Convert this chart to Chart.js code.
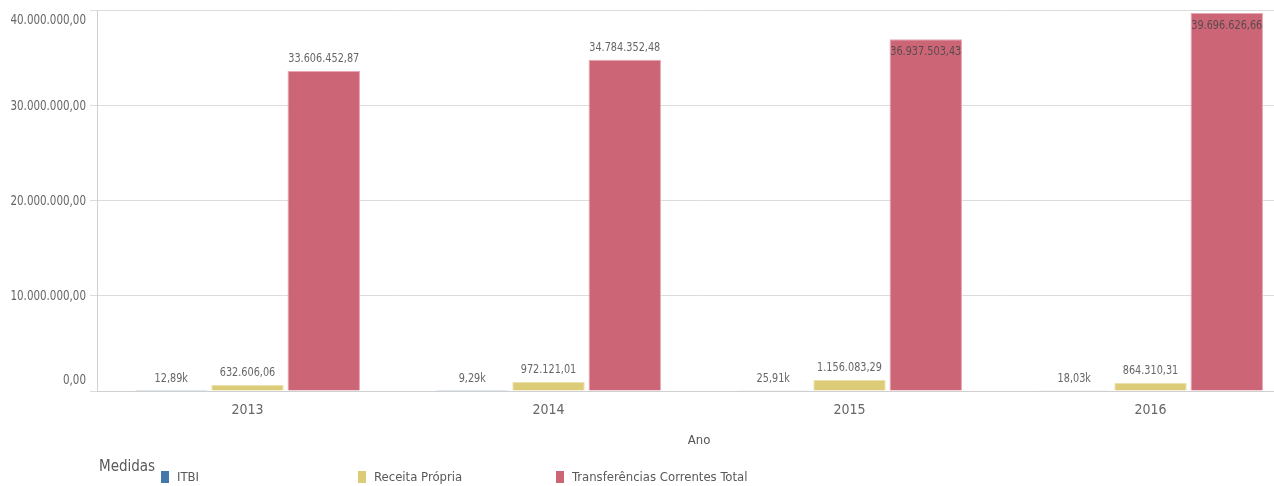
<!DOCTYPE html>
<html>
<head>
<meta charset="utf-8">
<script src="https://cdn.jsdelivr.net/npm/chart.js@4.4.1/dist/chart.umd.min.js"></script>
<style>
  body { margin: 0; background: #fff; overflow: hidden; width: 1274px; height: 486px; position: relative; }
  #wrap { position: absolute; left: 0; top: 0; width: 1302px; height: 458px; }
  .leg { position: absolute; font-family: 'Liberation Sans Narrow', 'DejaVu Sans Condensed', sans-serif; color: #595959; }
  .leg .sq { position: absolute; width: 8px; height: 12px; }
  .leg span.t { position: absolute; white-space: nowrap; font-size: 13px; }
</style>
</head>
<body>
<div id="wrap"><canvas id="grafico"></canvas></div>
<div class="leg" style="left:99px;top:457px;font-size:15px;">Medidas</div>
<div class="leg" id="legenda"></div>
<script>
const FONTE = "'Liberation Sans Narrow', 'DejaVu Sans Condensed', sans-serif";

const anos = ['2013', '2014', '2015', '2016'];
const medidas = ['ITBI', 'Receita Própria', 'Transferências Correntes Total'];
const itbi = [12890, 9290, 25910, 18030];
const receitaPropria = [632606.06, 972121.01, 1156083.29, 864310.31];
const transferencias = [33606452.87, 34784352.48, 36937503.43, 39696626.66];
const cores = ['#4477aa', '#ddcc77', '#cc6677'];
const bordas = ['#c9cfe6', '#ece2b0', '#e8a8b3'];
const legendaX = [161, 358, 556];

function formatBR(v) {
    const [inteiro, dec] = v.toFixed(2).split('.');
    return inteiro.replace(/\B(?=(\d{3})+(?!\d))/g, '.') + ',' + dec;
}

function formatRotulo(v) {
    if (v < 100000) return (v / 1000).toFixed(2).replace('.', ',') + 'k';
    return formatBR(v);
}

// texto "condensado": a fonte original é estreita
function textoEstreito(ctx, txt, x, y, escala) {
    ctx.save();
    ctx.translate(x, y);
    ctx.scale(escala, 1);
    ctx.fillText(txt, 0, 0);
    ctx.restore();
}

// rótulos de valor em cima (ou dentro) das barras
const rotulosValor = {
    id: 'rotulosValor',
    afterDatasetsDraw(chart) {
        const ctx = chart.ctx;
        const topo = chart.chartArea.top;
        ctx.save();
        ctx.font = '13px ' + FONTE;
        ctx.textAlign = 'center';
        chart.data.datasets.forEach((ds, i) => {
            chart.getDatasetMeta(i).data.forEach((bar, j) => {
                const txt = formatRotulo(ds.data[j]);
                const dentro = bar.y - topo < 36;
                ctx.fillStyle = dentro ? '#5a4a4e' : '#666';
                ctx.textBaseline = dentro ? 'top' : 'bottom';
                textoEstreito(ctx, txt, bar.x, dentro ? bar.y + 6 : bar.y - 6, 0.83);
            });
        });
        ctx.restore();
    }
};

// rótulos do eixo y no estilo do original (primeiro e último deslocados)
const rotulosEixoY = {
    id: 'rotulosEixoY',
    afterDraw(chart) {
        const ctx = chart.ctx;
        const y = chart.scales.y;
        ctx.save();
        ctx.font = '14px ' + FONTE;
        ctx.fillStyle = '#666';
        ctx.textAlign = 'right';
        y.ticks.forEach(t => {
            const py = y.getPixelForValue(t.value);
            let dy = 1;
            ctx.textBaseline = 'middle';
            if (t.value === y.max) { ctx.textBaseline = 'top'; dy = 3; }
            else if (t.value === y.min) { ctx.textBaseline = 'bottom'; dy = -4; }
            textoEstreito(ctx, formatBR(t.value), y.right - 11, py + dy, 0.82);
        });
        ctx.restore();
    }
};

const series = [itbi, receitaPropria, transferencias];

new Chart(document.getElementById('grafico'), {
    type: 'bar',
    data: {
        labels: anos,
        datasets: medidas.map((m, i) => ({
            label: m,
            data: series[i],
            backgroundColor: cores[i],
            borderColor: bordas[i],
            borderWidth: 1,
            categoryPercentage: 0.76,
            barPercentage: 0.95
        }))
    },
    options: {
        responsive: true,
        maintainAspectRatio: false,
        animation: false,
        layout: { padding: { top: 10, right: 1, left: 0, bottom: 0 } },
        plugins: { legend: { display: false }, tooltip: { enabled: false } },
        scales: {
            x: {
                grid: { display: false, drawTicks: false },
                border: { color: '#cfcfcf' },
                ticks: { color: '#666', font: { family: FONTE, size: 14 }, padding: 11 },
                title: { display: true, text: 'Ano', color: '#555', font: { family: FONTE, size: 13 }, padding: { top: 0, bottom: 10 } },
                afterFit: (s) => { s.height = 67; }
            },
            y: {
                min: 0,
                max: 40000000,
                ticks: { stepSize: 10000000, display: false },
                grid: { color: '#dcdcdc', tickLength: 7, drawTicks: true },
                border: { color: '#cfcfcf' },
                afterFit: (s) => { s.width = 97; }
            }
        }
    },
    plugins: [rotulosValor, rotulosEixoY]
});

const leg = document.getElementById('legenda');
medidas.forEach((m, i) => {
    leg.insertAdjacentHTML('beforeend',
        `<div class="sq" style="left:${legendaX[i]}px;top:471px;background:${cores[i]}"></div>` +
        `<span class="t" style="left:${legendaX[i] + 16}px;top:469px">${m}</span>`);
});
</script>
</body>
</html>
